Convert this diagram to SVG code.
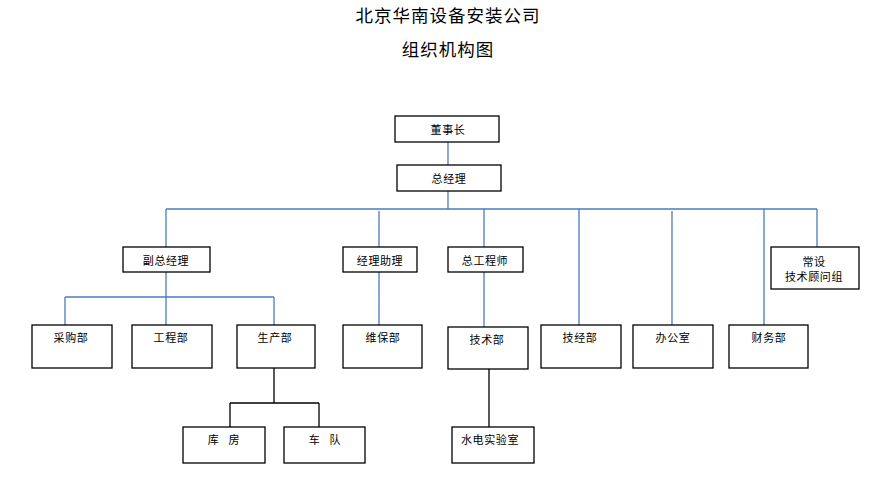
<svg xmlns="http://www.w3.org/2000/svg" width="887" height="485" viewBox="0 0 887 485">
<style>
.box{fill:#fff;stroke:#000;stroke-width:1.3}
.t{font-family:"Noto Sans CJK SC","Noto Sans",sans-serif;font-size:11px;letter-spacing:0.6px;text-anchor:middle;dominant-baseline:central;fill:#000}
.title{font-family:"Noto Sans CJK SC","Noto Sans",sans-serif;font-size:17.5px;letter-spacing:1px;text-anchor:middle;dominant-baseline:central;fill:#000}
.b{fill:none;stroke:#4a7ebb;stroke-width:1.3}
.k{fill:none;stroke:#000;stroke-width:1.3}
</style>
<rect width="887" height="485" fill="#fff"/>
<text class="title" x="448" y="14">北京华南设备安装公司</text>
<text class="title" x="448" y="48">组织机构图</text>
<g id="connectors">
<path class="b" d="M448 142V165M448 191V209M166 209H817M166 209V247M379 211V247M484 209V247M579 209V325M672 211V325M764 209V325M817 209V247"/>
<path class="b" d="M166 272V297M65 297H274M65 297V325M166 297V325M274 297V325M379 272V325M484 272V327"/>
<path class="k" d="M274 368V403M230 403H319M230 403V427M319 403V427M489 369V427"/>
</g>
<g id="n-dongshizhang"><rect class="box" x="395" y="116" width="104" height="26"/><text class="t" x="448" y="129">董事长</text></g>
<g id="n-zongjingli"><rect class="box" x="397" y="165" width="104" height="26"/><text class="t" x="449" y="178">总经理</text></g>
<g id="n-fuzong"><rect class="box" x="123" y="247" width="87" height="25"/><text class="t" x="166" y="260">副总经理</text></g>
<g id="n-zhuli"><rect class="box" x="343" y="247" width="74" height="25"/><text class="t" x="380" y="260">经理助理</text></g>
<g id="n-zonggong"><rect class="box" x="448" y="247" width="75" height="25"/><text class="t" x="485" y="260">总工程师</text></g>
<g id="n-guwen"><rect class="box" x="771" y="247" width="88" height="42"/><text class="t" x="814" y="261">常设</text><text class="t" x="814" y="276">技术顾问组</text></g>
<g id="n-caigou"><rect class="box" x="32" y="325" width="80" height="43"/><text class="t" x="71" y="337">采购部</text></g>
<g id="n-gongcheng"><rect class="box" x="132" y="325" width="80" height="43"/><text class="t" x="171" y="337">工程部</text></g>
<g id="n-shengchan"><rect class="box" x="237" y="325" width="78" height="43"/><text class="t" x="275" y="337">生产部</text></g>
<g id="n-weibao"><rect class="box" x="343" y="325" width="79" height="43"/><text class="t" x="383" y="337">维保部</text></g>
<g id="n-jishu"><rect class="box" x="448" y="327" width="80" height="42"/><text class="t" x="487" y="339">技术部</text></g>
<g id="n-jijing"><rect class="box" x="541" y="325" width="80" height="43"/><text class="t" x="580" y="337">技经部</text></g>
<g id="n-bangong"><rect class="box" x="633" y="325" width="80" height="43"/><text class="t" x="673" y="337">办公室</text></g>
<g id="n-caiwu"><rect class="box" x="729" y="325" width="79" height="43"/><text class="t" x="769" y="337">财务部</text></g>
<g id="n-kufang"><rect class="box" x="183" y="427" width="82" height="36"/><text class="t" x="224" y="439" style="white-space:pre">库   房</text></g>
<g id="n-chedui"><rect class="box" x="284" y="427" width="81" height="36"/><text class="t" x="325" y="439" style="white-space:pre">车   队</text></g>
<g id="n-shiyan"><rect class="box" x="452" y="427" width="82" height="36"/><text class="t" x="490" y="439">水电实验室</text></g>
</svg>
